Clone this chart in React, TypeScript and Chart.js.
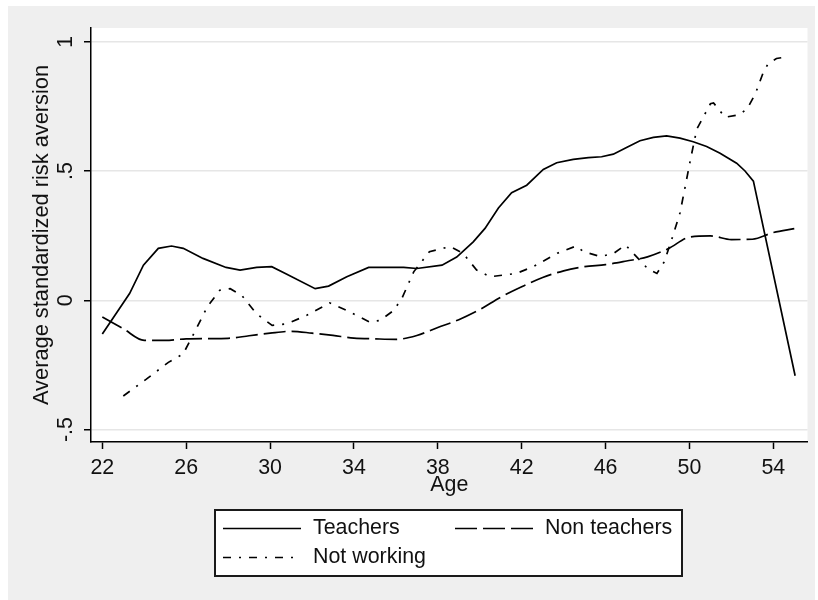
import { useEffect, useRef } from "react";
import { Chart, registerables } from "chart.js";

Chart.register(...registerables);

// Average standardized risk aversion by age, for three groups (smoothed curves).
const teacherAges = [22.0, 23.3, 23.96, 24.67, 25.3, 25.86, 26.8, 27.9, 28.57, 29.36, 30.08, 30.8, 32.15, 32.79, 33.66, 34.7, 36.37, 37.0, 38.2, 38.9, 39.69, 40.25, 40.89, 41.52, 42.24, 43.03, 43.67, 44.46, 45.18, 45.81, 46.37, 47.0, 47.64, 48.28, 48.91, 49.55, 50.18, 50.82, 51.46, 52.25, 52.65, 53.05, 55.04];
const teacherValues = [-0.13, 0.026, 0.136, 0.201, 0.21, 0.201, 0.162, 0.127, 0.117, 0.127, 0.13, 0.101, 0.045, 0.055, 0.091, 0.127, 0.127, 0.123, 0.136, 0.167, 0.226, 0.278, 0.357, 0.416, 0.445, 0.506, 0.532, 0.545, 0.552, 0.555, 0.565, 0.591, 0.617, 0.63, 0.636, 0.627, 0.613, 0.595, 0.569, 0.53, 0.5, 0.461, -0.292];

const nonTeacherAges = [22, 23, 24, 25, 26, 27, 28, 29, 30, 31, 32, 33, 34, 35, 36, 37, 38, 39, 40, 41, 42, 43, 44, 45, 46, 47, 48, 49, 50, 51, 52, 53, 54, 55];
const nonTeacherValues = [-0.065, -0.11, -0.155, -0.155, -0.149, -0.148, -0.147, -0.137, -0.127, -0.12, -0.127, -0.136, -0.146, -0.149, -0.151, -0.136, -0.105, -0.075, -0.036, 0.012, 0.052, 0.088, 0.114, 0.13, 0.138, 0.152, 0.168, 0.2, 0.244, 0.249, 0.235, 0.236, 0.262, 0.277];

const notWorkingAges = [23.0, 24.1, 25.15, 25.85, 26.4, 27.0, 27.6, 28.1, 28.65, 29.35, 30.1, 30.8, 31.75, 32.85, 33.65, 34.75, 35.25, 35.9, 36.3, 36.85, 37.6, 38.6, 39.2, 39.85, 40.5, 41.75, 42.55, 43.7, 44.6, 44.95, 45.75, 46.4, 46.95, 47.55, 48.0, 48.45, 48.8, 49.15, 49.55, 49.8, 50.05, 50.35, 51.0, 51.15, 51.7, 52.35, 52.75, 53.15, 53.5, 53.75, 54.15, 54.6];
const notWorkingValues = [-0.37, -0.305, -0.24, -0.208, -0.123, -0.026, 0.039, 0.045, 0.019, -0.052, -0.097, -0.091, -0.058, -0.01, -0.039, -0.084, -0.078, -0.039, 0.01, 0.11, 0.188, 0.208, 0.182, 0.117, 0.091, 0.104, 0.13, 0.182, 0.21, 0.188, 0.169, 0.182, 0.214, 0.162, 0.123, 0.104, 0.149, 0.234, 0.338, 0.441, 0.545, 0.662, 0.76, 0.763, 0.708, 0.717, 0.74, 0.8, 0.877, 0.915, 0.935, 0.941];

const seriesNames = ["Teachers", "Non teachers", "Not working"];

const xTickValues = [22, 26, 30, 34, 38, 42, 46, 50, 54];
const yTickValues = [-0.5, 0, 0.5, 1];
const yTickLabels = ["-.5", "0", ".5", "1"];

const FONT_FAMILY = "'Liberation Sans', Arial, sans-serif";
const FONT_SIZE = 21.4;
const TEXT_COLOR = "#111111";

const toPoints = (xs: number[], ys: number[]) => xs.map((x, i) => ({ x, y: ys[i] }));

// Grey page panel and white plot region behind everything.
const backdropPlugin = {
  id: "backdrop",
  beforeDraw(chart: any) {
    const { ctx, chartArea: a } = chart;
    ctx.save();
    ctx.fillStyle = "#ffffff";
    ctx.fillRect(0, 0, chart.width, chart.height);
    ctx.fillStyle = "#efefef";
    ctx.fillRect(8, 6, 807, 594);
    ctx.fillStyle = "#ffffff";
    ctx.fillRect(a.left, a.top, a.right - a.left, a.bottom - a.top);
    ctx.restore();
  },
};

// Boxed legend below the axis title, two columns.
const legendBoxPlugin = {
  id: "legendBox",
  afterDraw(chart: any) {
    const { ctx } = chart;
    const box = { x: 215, y: 510, w: 467, h: 66 };
    const slots = [
      { x: 223, y: 528.5 },
      { x: 455, y: 528.5 },
      { x: 223, y: 557.5 },
    ];
    ctx.save();
    ctx.fillStyle = "#ffffff";
    ctx.fillRect(box.x, box.y, box.w, box.h);
    ctx.lineWidth = 2;
    ctx.strokeStyle = "#1a1a1a";
    ctx.strokeRect(box.x, box.y, box.w, box.h);
    chart.data.datasets.forEach((ds: any, i: number) => {
      const s = slots[i];
      ctx.beginPath();
      ctx.setLineDash(ds.borderDash || []);
      ctx.lineWidth = ds.borderWidth;
      ctx.strokeStyle = ds.borderColor;
      ctx.moveTo(s.x, s.y);
      ctx.lineTo(s.x + 78, s.y);
      ctx.stroke();
      ctx.setLineDash([]);
      ctx.fillStyle = TEXT_COLOR;
      ctx.font = `${FONT_SIZE}px ${FONT_FAMILY}`;
      ctx.textAlign = "left";
      ctx.textBaseline = "middle";
      ctx.fillText(ds.label, s.x + 90, s.y);
    });
    ctx.restore();
  },
};

export default function App() {
  const canvasRef = useRef<HTMLCanvasElement | null>(null);

  useEffect(() => {
    const canvas = canvasRef.current;
    if (!canvas) return;
    const font = { family: FONT_FAMILY, size: FONT_SIZE };

    const chart = new Chart(canvas, {
      type: "line",
      data: {
        datasets: [
          {
            label: seriesNames[0],
            data: toPoints(teacherAges, teacherValues),
            borderColor: "#000000",
            borderWidth: 1.7,
            borderDash: [],
            tension: 0,
            pointRadius: 0,
            fill: false,
          },
          {
            label: seriesNames[1],
            data: toPoints(nonTeacherAges, nonTeacherValues),
            borderColor: "#000000",
            borderWidth: 1.7,
            borderDash: [22, 6],
            cubicInterpolationMode: "monotone",
            pointRadius: 0,
            fill: false,
          },
          {
            label: seriesNames[2],
            data: toPoints(notWorkingAges, notWorkingValues),
            borderColor: "#000000",
            borderWidth: 1.7,
            borderDash: [8, 8, 2, 8],
            tension: 0,
            pointRadius: 0,
            fill: false,
          },
        ],
      },
      options: {
        responsive: false,
        animation: false,
        events: [],
        layout: { padding: { left: 0, top: 28, right: 10.5, bottom: 102.2 } },
        plugins: {
          legend: { display: false },
          tooltip: { enabled: false },
        },
        scales: {
          x: {
            type: "linear",
            min: 21.46,
            max: 55.63,
            afterBuildTicks: (scale: any) => {
              scale.ticks = xTickValues.map((v) => ({ value: v }));
            },
            afterFit: (scale: any) => {
              scale.height = 55.8;
            },
            ticks: {
              font,
              color: TEXT_COLOR,
              padding: 6.5,
              maxRotation: 0,
              autoSkip: false,
              callback: (v: any) => String(v),
            },
            grid: {
              drawOnChartArea: false,
              drawTicks: true,
              tickLength: 7,
              tickColor: "#000000",
              tickWidth: 1.5,
            },
            border: { display: true, color: "#000000", width: 1.5 },
            title: {
              display: true,
              text: "Age",
              font,
              color: TEXT_COLOR,
              padding: { top: 0, bottom: 0 },
            },
          },
          y: {
            type: "linear",
            min: -0.548,
            max: 1.053,
            afterBuildTicks: (scale: any) => {
              scale.ticks = yTickValues.map((v) => ({ value: v }));
            },
            afterFit: (scale: any) => {
              scale.width = 91;
            },
            ticks: {
              font,
              color: TEXT_COLOR,
              padding: 5,
              minRotation: 90,
              maxRotation: 90,
              crossAlign: "center",
              autoSkip: false,
              callback: (_v: any, i: number) => yTickLabels[i],
            },
            grid: {
              color: "#e6e6e6",
              lineWidth: 1.5,
              drawTicks: true,
              tickLength: 7,
              tickColor: "#000000",
              tickWidth: 1.5,
            },
            border: { display: true, color: "#000000", width: 1.5 },
            title: {
              display: true,
              text: "Average standardized risk aversion",
              font: { family: FONT_FAMILY, size: 21.8 },
              color: TEXT_COLOR,
              padding: { top: 28.6, bottom: 0 },
            },
          },
        },
      },
      plugins: [backdropPlugin, legendBoxPlugin],
    } as any);

    return () => chart.destroy();
  }, []);

  return (
    <div style={{ position: "absolute", left: 0, top: 0, width: 818, height: 600 }}>
      <canvas ref={canvasRef} width={818} height={600} style={{ display: "block", width: 818, height: 600 }} />
    </div>
  );
}
